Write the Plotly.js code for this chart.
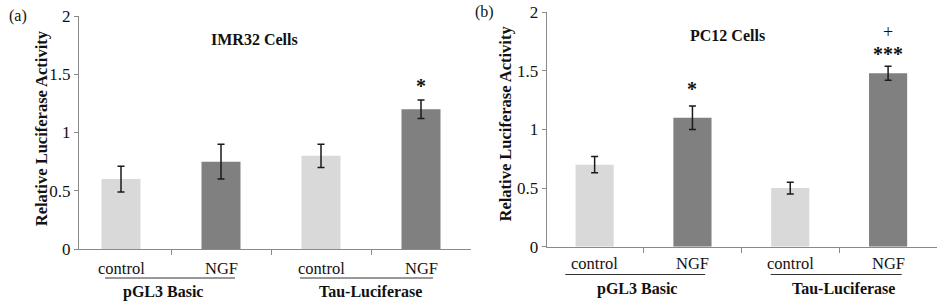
<!DOCTYPE html>
<html>
<head>
<meta charset="utf-8">
<script src="https://cdn.plot.ly/plotly-3.0.1.min.js"></script>
<style>
  html, body { margin: 0; padding: 0; background: #fff; }
  #chart { width: 937px; height: 302px; }
</style>
</head>
<body>
<div id="chart"></div>
<script>
// ---- data ----
const conditions = ["control", "NGF", "control", "NGF"];
const constructs = ["pGL3 Basic", "Tau-Luciferase"];
const imr32Values = [0.60, 0.75, 0.80, 1.20];
const imr32Errors = [0.11, 0.15, 0.10, 0.08];
const pc12Values = [0.70, 1.10, 0.50, 1.48];
const pc12Errors = [0.07, 0.10, 0.05, 0.06];
const imr32Marks = ["", "", "", "*"];
const pc12Marks = ["", "*", "", "***"];
const pc12Marks2 = ["", "", "", "+"];
const yTicks = [0, 0.5, 1, 1.5, 2];
const yTickText = ["0", "0.5", "1", "1.5", "2"];
const panelTitles = ["IMR32 Cells", "PC12 Cells"];
const panelLabels = ["(a)", "(b)"];
const yTitle = "Relative Luciferase Activity";

// ---- styling ----
const FONT = "Liberation Serif, Times New Roman, serif";
const LIGHT = "#d9d9d9";
const DARK = "#808080";
const AXIS = "#8a8a8a";
const idx = conditions.map((_, i) => i);
const colors = conditions.map(c => c === "control" ? LIGHT : DARK);

function bar(vals, errs, xa, ya) {
  return {
    type: "bar", x: idx, y: vals, xaxis: xa, yaxis: ya,
    width: 0.39,
    marker: { color: colors, line: { width: 0 } },
    error_y: { type: "data", array: errs, visible: true, color: "#1a1a1a", thickness: 1.5, width: 3.5 },
    hoverinfo: "skip", showlegend: false
  };
}

const yAxisBase = {
  range: [0, 2], tickvals: yTicks, ticktext: yTickText,
  showgrid: false, zeroline: false, showline: true, linecolor: AXIS, linewidth: 1,
  ticks: "outside", ticklen: 4, tickcolor: AXIS,
  tickfont: { family: FONT, size: 17, color: "#111" }, fixedrange: true
};
const xAxisBase = {
  tickvals: [0.5, 1.5, 2.5], ticktext: ["", "", ""],
  showgrid: false, zeroline: false, showline: true, linecolor: AXIS, linewidth: 1,
  ticks: "outside", ticklen: 5, tickcolor: AXIS, fixedrange: true
};

const data = [
  bar(imr32Values, imr32Errors, "x", "y"),
  bar(pc12Values, pc12Errors, "x2", "y2")
];

const ann = [];
const shapes = [];
function txt(text, x, y, xref, yref, size, bold, extra) {
  ann.push(Object.assign({
    text: bold ? "<b>" + text + "</b>" : text, x: x, y: y, xref: xref, yref: yref,
    showarrow: false, xanchor: "center", yanchor: "middle",
    font: { family: FONT, size: size, color: "#111" }
  }, extra || {}));
}
const py = p => 1 - p / 302;

// panel labels & titles
txt(panelLabels[0], 17.5 / 937, py(16), "paper", "paper", 16, false);
txt(panelLabels[1], 484 / 937, py(12), "paper", "paper", 16, false);
txt(panelTitles[0], 254.5 / 937, py(39), "paper", "paper", 16, true);
txt(panelTitles[1], 727.5 / 937, py(36), "paper", "paper", 16, true);
// y titles
txt(yTitle, 41.7 / 937, py(128.5), "paper", "paper", 16.5, true, { textangle: -90 });
txt(yTitle, 505 / 937, py(123.5), "paper", "paper", 16.5, true, { textangle: -90 });

// significance marks
imr32Marks.forEach((m, i) => { if (m) txt(m, i, 1.40, "x", "y", 20, true); });
pc12Marks.forEach((m, i) => { if (m) txt(m, i, i === 3 ? 1.645 : 1.345, "x2", "y2", 20, true); });
pc12Marks2.forEach((m, i) => { if (m) txt(m, i, 1.835, "x2", "y2", 18, false); });

// category labels
conditions.forEach((c, i) => {
  txt(c, i, py(268.5), "x", "paper", 16.5, false);
  txt(c, i, py(263.5), "x2", "paper", 16.5, false);
});
// group underlines and labels
const groupA = [[-0.16, 1.14, 0.415], [1.79, 3.12, 2.495]];
const groupB = [[-0.30, 1.13, 0.43], [1.80, 3.14, 2.54]];
constructs.forEach((g, k) => {
  shapes.push({ type: "line", xref: "x", yref: "paper", x0: groupA[k][0], x1: groupA[k][1], y0: py(278), y1: py(278), line: { color: "#333", width: 1 } });
  shapes.push({ type: "line", xref: "x2", yref: "paper", x0: groupB[k][0], x1: groupB[k][1], y0: py(274.5), y1: py(274.5), line: { color: "#333", width: 1 } });
  txt(g, groupA[k][2], py(291.5), "x", "paper", 16, true);
  txt(g, groupB[k][2], py(288.5), "x2", "paper", 16, true);
});

const layout = {
  width: 937, height: 302,
  margin: { l: 0, r: 0, t: 0, b: 0 },
  paper_bgcolor: "#fff", plot_bgcolor: "#fff",
  xaxis: Object.assign({}, xAxisBase, { domain: [79 / 937, 471 / 937], range: [-0.42, 3.5], anchor: "y" }),
  yaxis: Object.assign({}, yAxisBase, { domain: [1 - 249 / 302, 1 - 16 / 302], anchor: "x" }),
  xaxis2: Object.assign({}, xAxisBase, { domain: [546.7 / 937, 1], range: [-0.49, 3.5], anchor: "y2" }),
  yaxis2: Object.assign({}, yAxisBase, { domain: [1 - 246.7 / 302, 1 - 12.3 / 302], anchor: "x2" }),
  annotations: ann,
  shapes: shapes,
  bargap: 0.6
};

Plotly.newPlot("chart", data, layout, { displayModeBar: false, staticPlot: true });
</script>
</body>
</html>
